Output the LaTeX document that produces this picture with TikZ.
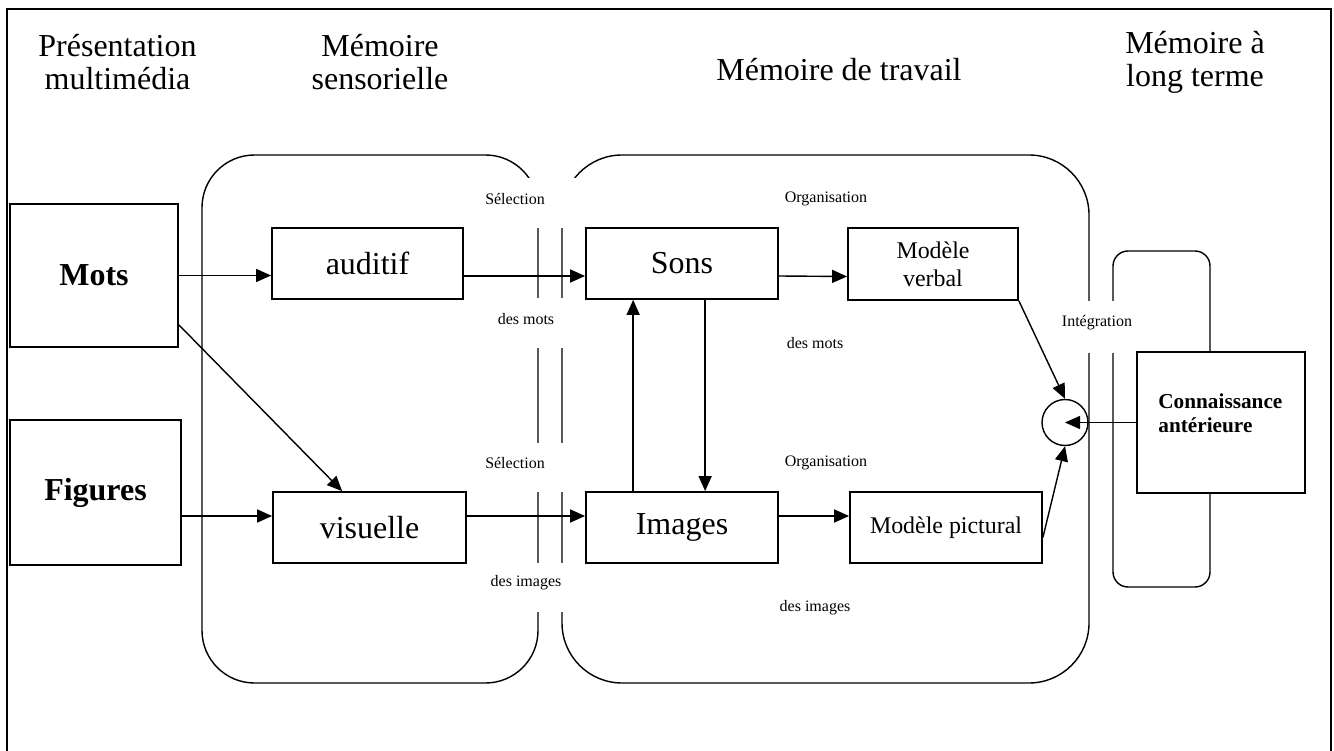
\documentclass[tikz,border=0pt]{standalone}
\usepackage{fontspec}
\setmainfont{Liberation Serif}
\usetikzlibrary{arrows.meta}
\usetikzlibrary{shapes}

\begin{document}
\begin{tikzpicture}[
        cadre/.style = {line width = 0.9pt},
        zone/.style = {line width = 0.8pt},
        boite/.style = {draw, fill = white, line width = 1pt, inner sep = 0pt},
        grand/.style = {font = \fontsize{18.2}{18.8}\selectfont},
        gras/.style = {font = \fontsize{18.2}{18.8}\selectfont\bfseries},
        moyen/.style = {font = \fontsize{13.6}{15.9}\selectfont},
        moyengras/.style = {font = \fontsize{12.1}{13.7}\selectfont\bfseries},
        petit/.style = {font = \fontsize{9.1}{11}\selectfont},
        fleche/.style = {-{Triangle[length = 0.3cm, width = 0.26cm]}, line width = 0.8pt}
    ]
        \useasboundingbox (0, 0) rectangle (26.68, -15.02);
        \draw[cadre] (0.14, -15.02) -- (0.14, -0.18) -- (26.62, -0.18) -- (26.62, -15.02);

        \node[grand, align = center] (presentation) at (2.35, -1.24) {Présentation\\multimédia};
        \node[grand, align = center] (sensorielle) at (7.6, -1.24) {Mémoire\\sensorielle};
        \node[grand] (travail) at (16.78, -1.4) {Mémoire de travail};
        \node[grand, align = center] (longterme) at (23.9, -1.24) {Mémoire à\\long terme};

        \draw[zone, rounded corners = 1.05cm] (4.04, -3.1) rectangle (10.76, -13.66);
        \draw[zone, rounded corners = 1.2cm] (11.24, -3.1) rectangle (21.78, -13.66);
        \draw[zone, rounded corners = 0.3cm] (22.26, -5.02) rectangle (24.2, -11.74);

        \fill[white] (10.5, -3.56) rectangle (11.55, -4.56);
        \fill[white] (10.6, -5.96) rectangle (11.4, -6.96);
        \fill[white] (10.6, -8.86) rectangle (11.4, -9.84);
        \fill[white] (10.6, -11.26) rectangle (11.4, -12.24);
        \fill[white] (21.6, -6.02) rectangle (22.4, -7.06);

        \node[petit] (selmots) at (10.3, -3.98) {Sélection};
        \node[petit] (desmots) at (10.52, -6.38) {des mots};
        \node[petit] (selimages) at (10.3, -9.26) {Sélection};
        \node[petit] (desimages) at (10.52, -11.66) {des images};
        \node[petit] (orgmots) at (16.52, -3.98) {Organisation};
        \node[petit] (orgdesmots) at (16.3, -6.86) {des mots};
        \node[petit] (orgimages) at (16.52, -9.26) {Organisation};
        \node[petit] (orgdesimages) at (16.3, -12.16) {des images};
        \node[petit] (integration) at (21.94, -6.46) {Intégration};

        \node[boite, gras, minimum width = 3.36cm, minimum height = 2.86cm] (mots) at (1.88, -5.51) {Mots};
        \node[boite, gras, minimum width = 3.42cm, minimum height = 2.9cm] (figures) at (1.91, -9.85) {Figures};
        \node[boite, grand, minimum width = 3.82cm, minimum height = 1.42cm] (auditif) at (7.35, -5.27) {auditif};
        \node[boite, grand, minimum width = 3.86cm, minimum height = 1.42cm] (visuelle) at (7.39, -10.55) {visuelle};
        \node[boite, grand, minimum width = 3.84cm, minimum height = 1.42cm] (sons) at (13.64, -5.27) {Sons};
        \node[boite, grand, minimum width = 3.84cm, minimum height = 1.42cm] (images) at (13.64, -10.55) {Images};
        \node[boite, moyen, align = center, minimum width = 3.4cm, minimum height = 1.44cm] (verbal) at (18.66, -5.28) {Modèle\\verbal};
        \node[boite, moyen, minimum width = 3.84cm, minimum height = 1.42cm] (pictural) at (18.92, -10.55) {Modèle pictural};
        \node[boite, minimum width = 3.36cm, minimum height = 2.82cm] (connaissance) at (24.42, -8.45) {};
        \node[moyengras, align = left, anchor = north west, inner sep = 0pt] (anterieure) at (23.16, -7.86) {Connaissance\\antérieure};
        \node[draw, circle, line width = 0.8pt, minimum size = 0.92cm, inner sep = 0pt] (integ) at (21.3, -8.45) {};

        \coordinate (bas) at ([yshift = 0.23cm]visuelle.west);
        \draw[fleche] (mots.east) -- (mots.east -| auditif.west);
        \draw[fleche] ([yshift = 0.46cm]mots.south east) -- ([xshift = 1.4cm]visuelle.north west);
        \draw[fleche] (figures.east |- bas) -- (bas);
        \draw[fleche] ([yshift = -0.25cm]auditif.east) -- ([yshift = -0.25cm]sons.west);
        \draw[fleche] ([yshift = 0.23cm]visuelle.east) -- ([yshift = 0.23cm]images.west);
        \draw[fleche] ([xshift = 0.96cm]images.north west) -- ([xshift = 0.96cm]sons.south west);
        \draw[fleche] ([xshift = 2.4cm]sons.south west) -- ([xshift = 2.4cm]images.north west);
        \draw[fleche] ([yshift = -0.25cm]sons.east) -- ([yshift = -0.25cm]verbal.west);
        \draw[fleche] ([yshift = 0.23cm]images.east) -- ([yshift = 0.23cm]pictural.west);
        \draw[fleche] (verbal.south east) -- (integ.north);
        \draw[fleche] ([yshift = -0.2cm]pictural.east) -- (integ.south);
        \draw[fleche] (connaissance.west) -- (integ.center);
    \end{tikzpicture}
\end{document}
